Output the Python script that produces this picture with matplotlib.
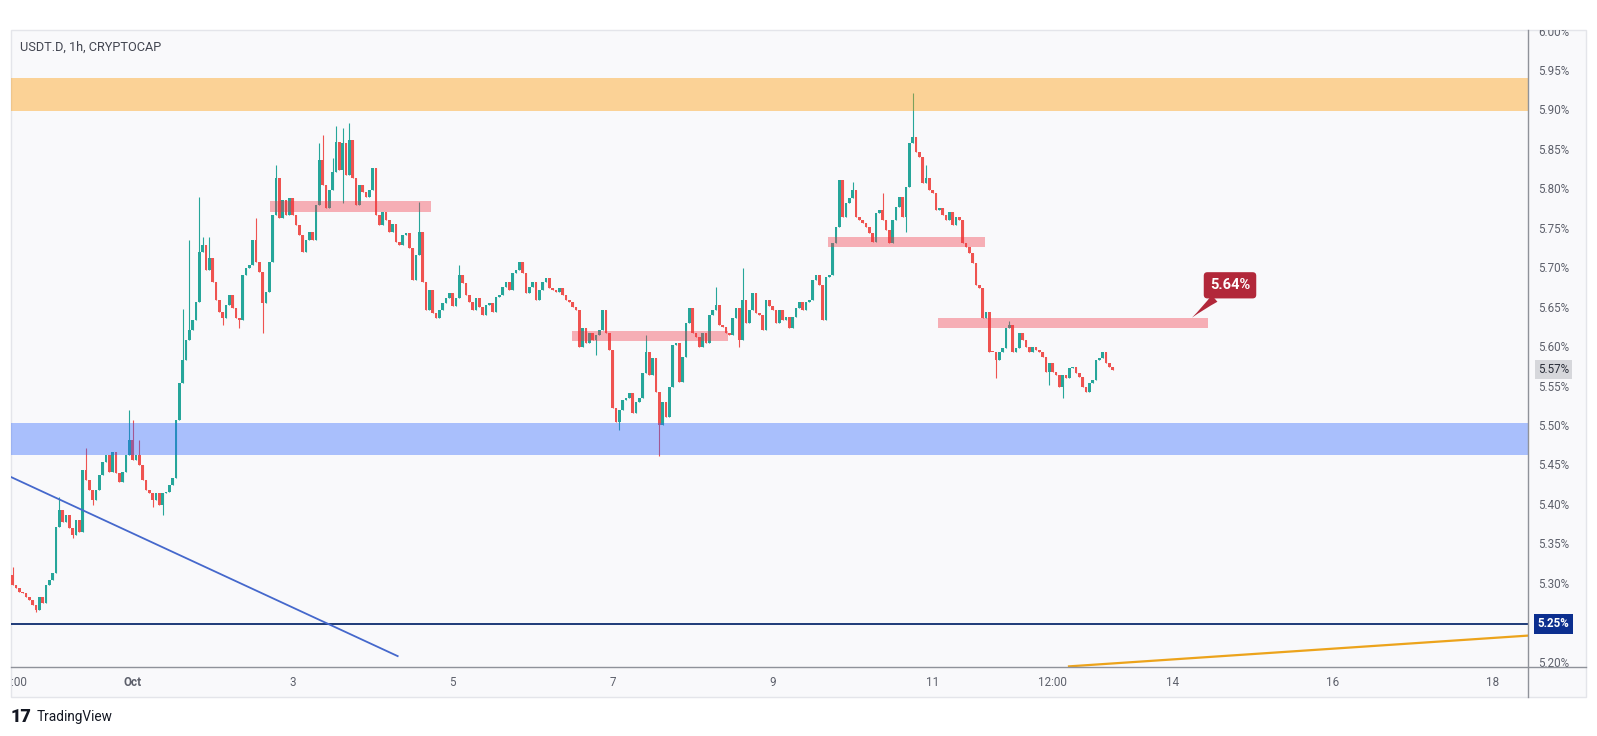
import matplotlib
matplotlib.use("Agg")
import matplotlib.pyplot as plt
from matplotlib.lines import Line2D
from matplotlib.patches import Rectangle
from matplotlib.transforms import blended_transform_factory

plt.rcParams["font.family"] = ["Roboto", "DejaVu Sans"]

# hourly candles, index 0 = Sep 30 12:00
FIRST_OPEN = 5.312
CLOSES = [
    5.299, 5.295, 5.290, 5.289, 5.284, 5.280, 5.274, 5.267, 5.284, 5.276,
    5.299, 5.305, 5.314, 5.373, 5.394, 5.379, 5.388, 5.371, 5.363, 5.381,
    5.366, 5.445, 5.432, 5.420, 5.407, 5.420, 5.439, 5.455, 5.464, 5.442,
    5.468, 5.441, 5.430, 5.442, 5.464, 5.483, 5.458, 5.464, 5.451, 5.432,
    5.420, 5.416, 5.407, 5.416, 5.401, 5.416, 5.417, 5.426, 5.435, 5.508,
    5.555, 5.584, 5.610, 5.622, 5.635, 5.658, 5.721, 5.730, 5.698, 5.714,
    5.683, 5.660, 5.645, 5.638, 5.654, 5.667, 5.650, 5.638, 5.635, 5.692,
    5.701, 5.705, 5.736, 5.709, 5.696, 5.657, 5.671, 5.709, 5.768, 5.815,
    5.764, 5.787, 5.768, 5.790, 5.768, 5.755, 5.743, 5.721, 5.736, 5.747,
    5.736, 5.781, 5.838, 5.806, 5.777, 5.800, 5.823, 5.861, 5.825, 5.859,
    5.819, 5.863, 5.815, 5.781, 5.806, 5.797, 5.791, 5.800, 5.828, 5.768,
    5.755, 5.772, 5.762, 5.747, 5.757, 5.734, 5.730, 5.743, 5.745, 5.726,
    5.686, 5.717, 5.747, 5.683, 5.648, 5.673, 5.644, 5.638, 5.648, 5.657,
    5.663, 5.669, 5.653, 5.663, 5.692, 5.682, 5.667, 5.658, 5.648, 5.663,
    5.651, 5.641, 5.654, 5.657, 5.645, 5.664, 5.667, 5.677, 5.683, 5.673,
    5.695, 5.698, 5.709, 5.695, 5.669, 5.677, 5.683, 5.660, 5.673, 5.683,
    5.688, 5.676, 5.673, 5.671, 5.676, 5.667, 5.660, 5.658, 5.651, 5.648,
    5.601, 5.625, 5.606, 5.619, 5.610, 5.616, 5.622, 5.648, 5.619, 5.597,
    5.523, 5.506, 5.521, 5.534, 5.536, 5.543, 5.517, 5.531, 5.536, 5.568,
    5.594, 5.565, 5.587, 5.544, 5.502, 5.531, 5.512, 5.550, 5.603, 5.606,
    5.556, 5.588, 5.631, 5.650, 5.619, 5.614, 5.601, 5.619, 5.606, 5.641,
    5.648, 5.654, 5.629, 5.626, 5.619, 5.616, 5.638, 5.650, 5.610, 5.660,
    5.631, 5.648, 5.669, 5.644, 5.641, 5.622, 5.660, 5.653, 5.648, 5.631,
    5.648, 5.635, 5.639, 5.625, 5.639, 5.650, 5.658, 5.648, 5.658, 5.660,
    5.686, 5.692, 5.679, 5.635, 5.690, 5.692, 5.733, 5.753, 5.812, 5.766,
    5.783, 5.790, 5.800, 5.766, 5.762, 5.758, 5.753, 5.745, 5.734, 5.771,
    5.774, 5.762, 5.749, 5.733, 5.762, 5.778, 5.791, 5.766, 5.804, 5.859,
    5.867, 5.848, 5.842, 5.809, 5.815, 5.800, 5.796, 5.774, 5.777, 5.768,
    5.762, 5.772, 5.755, 5.766, 5.762, 5.733, 5.728, 5.720, 5.707, 5.679,
    5.676, 5.638, 5.645, 5.595, 5.594, 5.584, 5.594, 5.600, 5.625, 5.629,
    5.594, 5.600, 5.619, 5.610, 5.601, 5.595, 5.601, 5.597, 5.595, 5.588,
    5.569, 5.581, 5.569, 5.565, 5.550, 5.565, 5.561, 5.574, 5.575, 5.568,
    5.563, 5.550, 5.544, 5.555, 5.559, 5.584, 5.587, 5.595, 5.581, 5.575,
    5.572,
]
# wicks that stick out of the body (candle index -> price)
HIGHS = {
    0: 5.322, 14: 5.411, 22: 5.473, 35: 5.521, 36: 5.508, 38: 5.483,
    51: 5.649, 53: 5.736, 56: 5.791, 57: 5.740, 59: 5.740, 73: 5.764,
    79: 5.831, 92: 5.859, 93: 5.869, 96: 5.840, 97: 5.881, 99: 5.878,
    101: 5.885, 122: 5.785, 134: 5.705, 190: 5.616, 211: 5.677, 219: 5.701,
    252: 5.810, 261: 5.796, 270: 5.923, 274: 5.831, 299: 5.634,
}
LOWS = {
    7: 5.265, 18: 5.359, 24: 5.401, 42: 5.398, 45: 5.388, 63: 5.629,
    68: 5.625, 75: 5.619, 99: 5.783, 175: 5.591, 182: 5.496, 194: 5.463,
    218: 5.601, 268: 5.747, 295: 5.561, 311: 5.553, 315: 5.536,
}

SUPPLY_ZONE = (5.900, 5.942)
DEMAND_ZONE = (5.464, 5.505)
# (start index, end index, low, high)
RED_ZONES = [
    (77.1, 125.5, 5.772, 5.786),
    (167.8, 214.6, 5.608, 5.621),
    (244.6, 291.7, 5.728, 5.740),
    (277.6, 358.6, 5.625, 5.638),
]
SUPPORT_LEVEL = 5.25
DOWN_TREND = [(-0.5, 5.436), (115.5, 5.209)]
UP_TREND = [(316.9, 5.196), (454.6, 5.235)]
CALLOUT_TEXT = "5.64%"
CALLOUT_TIP = (353.8, 5.638)
CALLOUT_BOX = (365.2, 5.679)

PRICE_TICKS = [5.20, 5.25, 5.30, 5.35, 5.40, 5.45, 5.50, 5.55, 5.60,
               5.65, 5.70, 5.75, 5.80, 5.85, 5.90, 5.95, 6.00]
TIME_TICKS = [(0, "12:00"), (36, "Oct"), (84, "3"), (132, "5"), (180, "7"),
              (228, "9"), (276, "11"), (312, "12:00"), (348, "14"),
              (396, "16"), (444, "18")]

UP = "#26a69a"
DOWN = "#ef5350"
W, H = 1597, 736


def fbox(x0, y0, x1, y1):
    return [x0 / W, 1 - y1 / H, (x1 - x0) / W, (y1 - y0) / H]


fig = plt.figure(figsize=(W / 100, H / 100), dpi=100)
fig.patch.set_facecolor("white")
fig.add_artist(Rectangle((11 / W, 1 - 697 / H), 1575 / W, 667 / H, transform=fig.transFigure,
                         facecolor="#f9f9fb", edgecolor="#e4e5ea", linewidth=1, zorder=0))

ax = fig.add_axes(fbox(11, 30, 1528, 667))
ax.set_facecolor("#f9f9fb")
ax.set_xlim(-0.5, 454.6)
ax.set_ylim(5.1952, 6.0026)
ax.axis("off")

opens = [FIRST_OPEN] + CLOSES[:-1]
xs = list(range(len(CLOSES)))
colors = [UP if c >= o else DOWN for o, c in zip(opens, CLOSES)]
highs = [HIGHS.get(i, max(o, c)) for i, (o, c) in enumerate(zip(opens, CLOSES))]
lows = [LOWS.get(i, min(o, c)) for i, (o, c) in enumerate(zip(opens, CLOSES))]
bottoms = [min(o, c) for o, c in zip(opens, CLOSES)]
heights = [max(abs(c - o), 0.0013) for o, c in zip(opens, CLOSES)]

ax.vlines(xs, lows, highs, colors=colors, linewidth=0.8, zorder=3)
ax.bar(xs, heights, bottom=bottoms, width=0.72, color=colors, linewidth=0, zorder=3.1)

ax.axhspan(*SUPPLY_ZONE, color="#ff9800", alpha=0.4, linewidth=0, zorder=5)
ax.axhspan(*DEMAND_ZONE, color="#2962ff", alpha=0.38, linewidth=0, zorder=5)
for x0, x1, lo, hi in RED_ZONES:
    ax.add_patch(Rectangle((x0, lo), x1 - x0, hi - lo, facecolor="#f23645", alpha=0.38,
                           linewidth=0, zorder=5))

ax.axhline(SUPPORT_LEVEL, color="#0d2b6e", linewidth=1.3, zorder=6)
ax.plot(*zip(*DOWN_TREND), color="#4568cc", linewidth=1.3, zorder=6)
ax.plot(*zip(*UP_TREND), color="#eca31b", linewidth=1.6, zorder=6)

ax.annotate(CALLOUT_TEXT, xy=CALLOUT_TIP, xytext=CALLOUT_BOX, ha="center", va="center",
            color="white", fontsize=10.5, fontweight="bold", zorder=8,
            bbox=dict(boxstyle="round,pad=0.42,rounding_size=0.25", fc="#b2283a", ec="none"),
            arrowprops=dict(arrowstyle="wedge,tail_width=0.6,shrink_factor=0.4",
                            fc="#b2283a", ec="none", shrinkA=0, shrinkB=0))

fig.text(20 / W, 1 - 47 / H, "USDT.D, 1h, CRYPTOCAP", va="center", ha="left",
         fontsize=9.2, color="#434651")

# price scale
ax_price = fig.add_axes(fbox(1528, 30, 1586, 667))
ax_price.set_ylim(ax.get_ylim())
ax_price.set_xlim(0, 1)
ax_price.axis("off")
tr_price = blended_transform_factory(ax_price.transAxes, ax_price.transData)
for v in PRICE_TICKS:
    ax_price.text(0.17, v, f"{v:.2f}%", transform=tr_price, ha="left", va="center",
                  fontsize=8.4, color="#5d606b", clip_on=True)
last = CLOSES[-1]
ax_price.text(0.17, last, f"{last:.2f}%", transform=tr_price, ha="left", va="center",
              fontsize=8.4, color="#2a2e39", zorder=5,
              bbox=dict(boxstyle="square,pad=0.25", fc="#d6d7db", ec="none"))
ax_price.text(0.17, SUPPORT_LEVEL, f"{SUPPORT_LEVEL:.2f}%", transform=tr_price, ha="left",
              va="center", fontsize=8.4, color="white", fontweight="bold", zorder=5,
              bbox=dict(boxstyle="square,pad=0.3", fc="#0c2f8f", ec="none"))

# time scale
ax_time = fig.add_axes(fbox(11, 667, 1528, 697))
ax_time.set_xlim(ax.get_xlim())
ax_time.set_ylim(0, 1)
ax_time.axis("off")
tr_time = blended_transform_factory(ax_time.transData, ax_time.transAxes)
for hour, label in TIME_TICKS:
    ax_time.text(hour, 0.5, label, transform=tr_time, ha="center", va="center",
                 fontsize=8.4, color="#5d606b", clip_on=True,
                 fontweight="bold" if label == "Oct" else "normal")

fig.add_artist(Line2D([1528 / W, 1528 / W], [1 - 30 / H, 1 - 697 / H],
                      transform=fig.transFigure, color="#8f929a", linewidth=1))
fig.add_artist(Line2D([11 / W, 1586 / W], [1 - 667 / H, 1 - 667 / H],
                      transform=fig.transFigure, color="#8f929a", linewidth=1))

fig.text(11 / W, 1 - 717 / H, "17", va="center", ha="left", fontsize=13,
         fontweight="black", color="#131722")
fig.text(37 / W, 1 - 717 / H, "TradingView", va="center", ha="left", fontsize=9.8,
         color="#131722")

fig.savefig("out.png", dpi=100, facecolor="white")
